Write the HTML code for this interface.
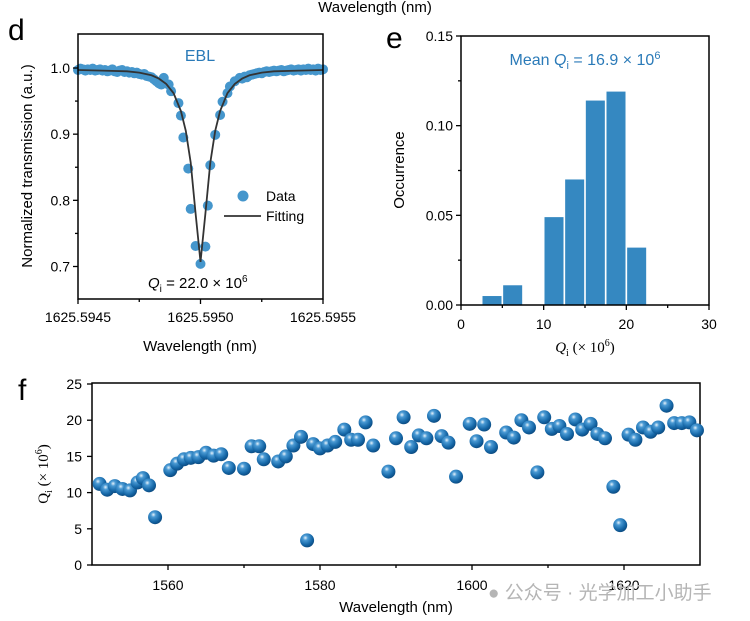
<!DOCTYPE html>
<html><head><meta charset="utf-8"><style>
body{margin:0;background:#fff}
svg{display:block;font-family:"Liberation Sans","Noto Sans CJK SC",sans-serif}
</style></head><body>
<svg id="s" width="750" height="621" viewBox="0 0 750 621">
<defs>
<radialGradient id="ball" cx="0.38" cy="0.32" r="0.7">
<stop offset="0" stop-color="#e8f3fb"/><stop offset="0.25" stop-color="#4a9ad4"/><stop offset="0.7" stop-color="#1668a8"/><stop offset="1" stop-color="#0b4a80"/>
</radialGradient>
</defs>
<text x="375" y="12" text-anchor="middle" font-size="15">Wavelength (nm)</text>
<text x="8" y="40" font-size="30">d</text>
<text x="386" y="48" font-size="30">e</text>
<text x="18" y="400" font-size="30">f</text>
<g id="gd"></g>
<g id="ge"></g>
<g id="gf"></g>
<text x="488" y="599" font-size="19" fill="#b5b5b5">● 公众号 · 光学加工小助手</text>
</svg>
<script>
// Panel d data
const dDataX=[1625.59450,1625.59451,1625.59452,1625.59453,1625.59454,1625.59455,1625.59456,1625.59457,1625.59458,1625.59459,1625.59460,1625.59461,1625.59462,1625.59463,1625.59464,1625.59465,1625.59466,1625.59467,1625.59468,1625.59469,1625.59470,1625.59471,1625.59472,1625.59473,1625.59474,1625.59475,1625.59476,1625.59477,1625.59478,1625.59479,1625.59480,1625.59481,1625.59482,1625.59483,1625.59484,
1625.59485,1625.59487,1625.59488,1625.59491,1625.59492,1625.59493,1625.59495,1625.59496,1625.59498,1625.59500,1625.59502,1625.59503,1625.59504,1625.59506,1625.59508,1625.59509,1625.59511,1625.59512,1625.59514,1625.59516,
1625.59517,1625.59518,1625.59519,1625.59520,1625.59521,1625.59522,1625.59523,1625.59524,1625.59525,1625.59526,1625.59527,1625.59528,1625.59529,1625.59530,1625.59531,1625.59532,1625.59533,1625.59534,1625.59535,1625.59536,1625.59537,1625.59538,1625.59539,1625.59540,1625.59541,1625.59542,1625.59543,1625.59544,1625.59545,1625.59546,1625.59547,1625.59548,1625.59549,1625.59550];
const dDataY=[0.997,0.999,0.998,0.996,0.998,0.997,0.999,0.996,0.997,0.998,0.996,0.997,0.995,0.996,0.998,0.995,0.994,0.996,0.997,0.994,0.995,0.993,0.994,0.992,0.993,0.991,0.990,0.991,0.988,0.987,0.986,0.983,0.980,0.977,0.975,
0.985,0.975,0.965,0.947,0.928,0.895,0.848,0.787,0.731,0.704,0.730,0.792,0.853,0.899,0.929,0.949,0.962,0.972,0.980,0.985,
0.984,0.987,0.986,0.989,0.990,0.991,0.992,0.993,0.992,0.994,0.995,0.994,0.995,0.996,0.995,0.996,0.997,0.995,0.996,0.997,0.998,0.996,0.997,0.998,0.996,0.998,0.997,0.999,0.997,0.998,0.996,0.999,0.997,0.998];
const dFitX=[1625.59450,1625.59460,1625.59470,1625.59475,1625.59480,1625.59483,1625.59486,1625.59489,1625.59492,1625.59494,1625.59496,1625.59498,1625.59500,1625.59502,1625.59504,1625.59506,1625.59508,1625.59511,1625.59514,1625.59517,1625.59520,1625.59525,1625.59530,1625.59540,1625.59550];
const dFitY=[0.997,0.996,0.995,0.993,0.989,0.984,0.976,0.962,0.935,0.905,0.857,0.780,0.707,0.780,0.857,0.905,0.935,0.962,0.976,0.984,0.989,0.993,0.995,0.996,0.997];
const dYTicks=[0.7,0.8,0.9,1.0];
const dYLabels=["0.7","0.8","0.9","1.0"];
const dXTicks=[1625.5945,1625.5950,1625.5955];
const dXLabels=["1625.5945","1625.5950","1625.5955"];
// Panel e data
const eBinCenters=[3.75,6.25,11.25,13.75,16.25,18.75,21.25];
const eValues=[0.005,0.011,0.049,0.070,0.114,0.119,0.032];
const eYTicks=[0,0.05,0.10,0.15];
const eYLabels=["0.00","0.05","0.10","0.15"];
const eXTicks=[0,10,20,30];
const eXLabels=["0","10","20","30"];
// Panel f data
const fWl=[1551,1552,1553,1554,1555,1556,1556.7,1557.5,1558.3,1560.3,1561.2,1562.1,1563,1564,1565,1566,1567,1568,1570,1571,1572,1572.6,1574.5,1575.5,1576.5,1577.5,1578.3,1579.1,1580,1581,1582,1583.2,1584.1,1585,1586,1587,1589,1590,1591,1592,1593,1594,1595,1596,1596.9,1597.9,1599.7,1600.6,1601.6,1602.5,1604.5,1605.5,1606.5,1607.5,1608.6,1609.5,1610.5,1611.5,1612.5,1613.6,1614.5,1615.6,1616.5,1617.5,1618.6,1619.5,1620.6,1621.5,1622.5,1623.5,1624.5,1625.6,1626.6,1627.6,1628.6,1629.6];
const fQ=[11.2,10.4,10.9,10.5,10.3,11.4,12.0,11.0,6.6,13.1,14.0,14.6,14.8,14.9,15.5,15.1,15.3,13.4,13.3,16.4,16.4,14.6,14.3,15.0,16.5,17.7,3.4,16.7,16.1,16.5,17.0,18.7,17.3,17.3,19.7,16.5,12.9,17.5,20.4,16.3,17.9,17.5,20.6,17.8,16.9,12.2,19.5,17.1,19.4,16.3,18.3,17.6,20.0,19.0,12.8,20.4,18.8,19.2,18.1,20.1,18.7,19.5,18.1,17.5,10.8,5.5,18.0,17.3,19.0,18.4,19.0,22.0,19.6,19.6,19.7,18.6];
const fYTicks=[0,5,10,15,20,25];
const fYLabels=["0","5","10","15","20","25"];
const fXTicks=[1560,1580,1600,1620];
const fXLabels=["1560","1580","1600","1620"];

const NS="http://www.w3.org/2000/svg";
function mk(p,tag,attrs,txt){const e=document.createElementNS(NS,tag);for(const k in attrs)e.setAttribute(k,attrs[k]);if(txt!==undefined)e.textContent=txt;p.appendChild(e);return e;}
function lin(d0,d1,r0,r1){return v=>r0+(v-d0)/(d1-d0)*(r1-r0);}
function frame(g,x0,x1,y0,y1){const r=mk(g,'rect',{x:x0,y:y0,width:x1-x0,height:y1-y0,fill:'none',stroke:'#000','stroke-width':1.5});}
function tickY(g,y,x0,len){const t=mk(g,'line',{x1:x0,x2:x0-len,y1:y,y2:y,stroke:'#000','stroke-width':1.3});}
function tickX(g,x,y0,len){const t=mk(g,'line',{x1:x,x2:x,y1:y0,y2:y0+len,stroke:'#000','stroke-width':1.3});}
function lab(g,x,y,s,anchor,size,name){const t=mk(g,'text',{x:x,y:y,'text-anchor':anchor,'font-size':size},s);return t;}

// ---- Panel d
(function(){
const g=document.getElementById('gd');
const L=78,R=323,T=34,B=299;
const X=lin(1625.5945,1625.5955,L,R), Y=lin(0.7,1.0,266.5,68);
for(let i=0;i<dDataX.length;i++){const c=mk(g,'circle',{cx:X(dDataX[i]),cy:Y(dDataY[i]),r:5,fill:'#4596cc'});}
const p=mk(g,'polyline',{points:dFitX.map((x,i)=>X(x)+','+Y(dFitY[i])).join(' '),fill:'none',stroke:'#333','stroke-width':1.8});

frame(g,L,R,T,B);
dYTicks.forEach((v,i)=>{tickY(g,Y(v),L,5);lab(g,L-8,Y(v)+5,dYLabels[i],'end',14,'y-tick-label');});
[0.75,0.85,0.95,0.65].forEach(v=>{const y=Y(v);if(y<B)tickY(g,y,L,3);});
dXTicks.forEach((v,i)=>{tickX(g,X(v),B,5);lab(g,X(v),322,dXLabels[i],'middle',14,'x-tick-label');});
[1625.59475,1625.59525].forEach(v=>tickX(g,X(v),B,3));
lab(g,200,351,'Wavelength (nm)','middle',15,'x-axis-title');
const yt=lab(g,0,0,'Normalized transmission (a.u.)','middle',15,'y-axis-title');yt.setAttribute('transform','translate(32,166) rotate(-90)');
const e=lab(g,200,61,'EBL','middle',16,'annotation-ebl');e.setAttribute('fill','#2a7ab8');
const lc=mk(g,'circle',{cx:243,cy:196,r:5.5,fill:'#4596cc'});
lab(g,266,201,'Data','start',14,'legend-data-label');
const ll=mk(g,'line',{x1:224,x2:261,y1:216,y2:216,stroke:'#333','stroke-width':1.8});
lab(g,266,221,'Fitting','start',14,'legend-fitting-label');
const q=lab(g,148,288,'','start',15,'annotation-qi');
q.innerHTML='<tspan font-style="italic">Q</tspan><tspan font-size="10" dy="4">i</tspan><tspan dy="-4"> = 22.0 × 10</tspan><tspan font-size="10" dy="-6">6</tspan>';
})();

// ---- Panel e
(function(){
const g=document.getElementById('ge');
const L=461,R=709,T=36,B=305;
const X=lin(0,30,L,R), Y=lin(0,0.15,B,T);
eBinCenters.forEach((c,i)=>{const r=mk(g,'rect',{x:X(c-1.15),y:Y(eValues[i]),width:X(2.3)-X(0),height:B-Y(eValues[i]),fill:'#3588c1'});});
frame(g,L,R,T,B);
eYTicks.forEach((v,i)=>{tickY(g,Y(v),L,5);lab(g,L-8,Y(v)+5,eYLabels[i],'end',14,'y-tick-label');});
[0.025,0.075,0.125].forEach(v=>tickY(g,Y(v),L,3));
eXTicks.forEach((v,i)=>{tickX(g,X(v),B,5);lab(g,X(v),329,eXLabels[i],'middle',14,'x-tick-label');});
[5,15,25].forEach(v=>tickX(g,X(v),B,3));
const xt=lab(g,585,352,'','middle',15,'x-axis-title');xt.setAttribute('font-family','Liberation Serif,serif');
xt.innerHTML='<tspan font-style="italic">Q</tspan><tspan font-size="10" dy="4">i</tspan><tspan dy="-4"> (× 10</tspan><tspan font-size="10" dy="-6">6</tspan><tspan dy="6">)</tspan>';
const yt=lab(g,0,0,'Occurrence','middle',15,'y-axis-title');yt.setAttribute('transform','translate(404,170) rotate(-90)');
const m=lab(g,585,65,'','middle',16,'annotation-mean');m.setAttribute('fill','#2a7ab8');
m.innerHTML='Mean <tspan font-style="italic">Q</tspan><tspan font-size="11" dy="4">i</tspan><tspan dy="-4"> = 16.9 × 10</tspan><tspan font-size="11" dy="-6">6</tspan>';
})();

// ---- Panel f
(function(){
const g=document.getElementById('gf');
const L=92,R=700,T=383,B=565;
const X=lin(1550,1630,L,R), Y=lin(0,25,B,T+1);
frame(g,L,R,T,B);
fWl.forEach((w,i)=>{const c=mk(g,'circle',{cx:X(w),cy:Y(fQ[i]),r:7,fill:'url(#ball)'});});
fYTicks.forEach((v,i)=>{tickY(g,Y(v),L,5);lab(g,L-10,Y(v)+5,fYLabels[i],'end',14,'y-tick-label');});
fXTicks.forEach((v,i)=>{tickX(g,X(v),B,5);lab(g,X(v),590,fXLabels[i],'middle',14,'x-tick-label');});
[1570,1590,1610].forEach(v=>tickX(g,X(v),B,3));
lab(g,396,612,'Wavelength (nm)','middle',15,'x-axis-title');
const yt=lab(g,0,0,'','middle',15,'y-axis-title');yt.setAttribute('font-family','Liberation Serif,serif');yt.setAttribute('transform','translate(48,474) rotate(-90)');
yt.innerHTML='<tspan>Q</tspan><tspan font-size="10" dy="4">i</tspan><tspan dy="-4"> (× 10</tspan><tspan font-size="10" dy="-6">6</tspan><tspan dy="6">)</tspan>';
})();
</script>
</body></html>
